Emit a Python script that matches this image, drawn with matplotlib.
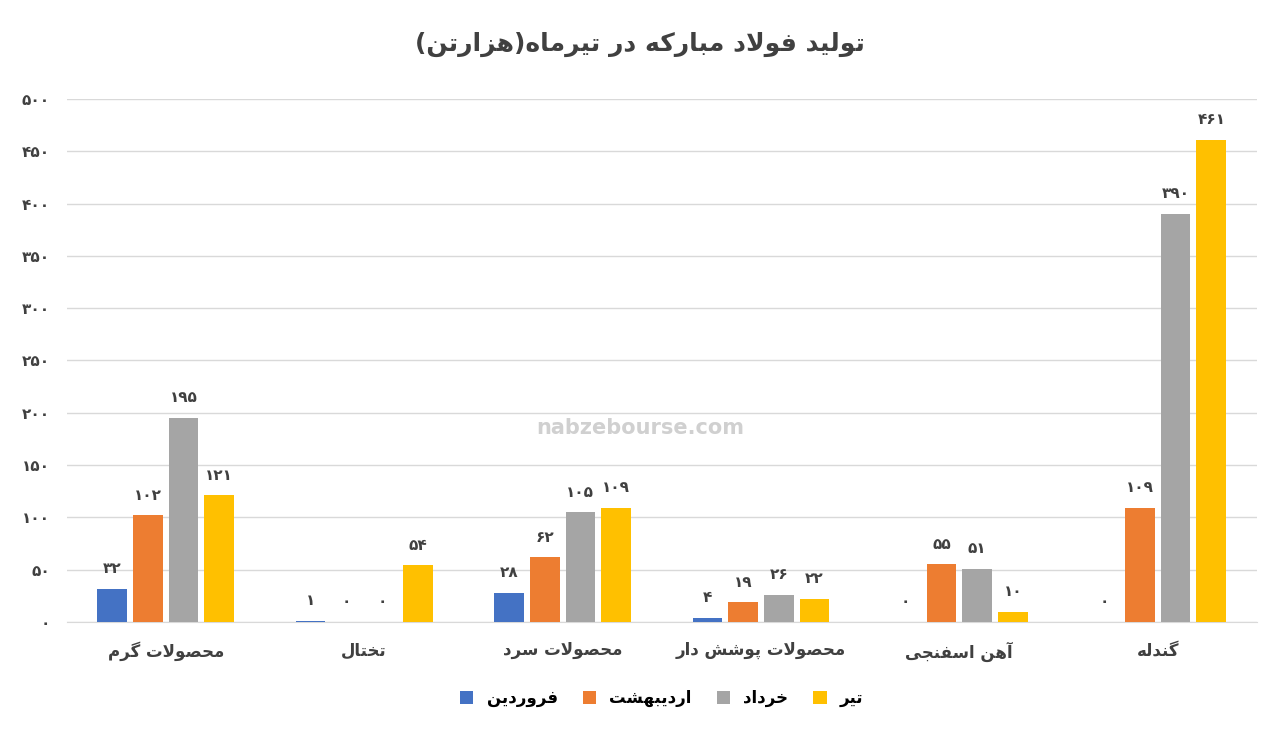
import numpy as np
import matplotlib.pyplot as plt

# simple Arabic/Persian shaping (no external libs available)
FORMS = {
    'ا': (0xFE8D, 0xFE8E), 'آ': (0xFE81, 0xFE82), 'د': (0xFEA9, 0xFEAA),
    'ذ': (0xFEAB, 0xFEAC), 'ر': (0xFEAD, 0xFEAE), 'ز': (0xFEAF, 0xFEB0),
    'ژ': (0xFB8A, 0xFB8B), 'و': (0xFEED, 0xFEEE),
    'ب': (0xFE8F, 0xFE90, 0xFE91, 0xFE92), 'پ': (0xFB56, 0xFB57, 0xFB58, 0xFB59),
    'ت': (0xFE95, 0xFE96, 0xFE97, 0xFE98), 'ث': (0xFE99, 0xFE9A, 0xFE9B, 0xFE9C),
    'ج': (0xFE9D, 0xFE9E, 0xFE9F, 0xFEA0), 'چ': (0xFB7A, 0xFB7B, 0xFB7C, 0xFB7D),
    'ح': (0xFEA1, 0xFEA2, 0xFEA3, 0xFEA4), 'خ': (0xFEA5, 0xFEA6, 0xFEA7, 0xFEA8),
    'س': (0xFEB1, 0xFEB2, 0xFEB3, 0xFEB4), 'ش': (0xFEB5, 0xFEB6, 0xFEB7, 0xFEB8),
    'ص': (0xFEB9, 0xFEBA, 0xFEBB, 0xFEBC), 'ض': (0xFEBD, 0xFEBE, 0xFEBF, 0xFEC0),
    'ط': (0xFEC1, 0xFEC2, 0xFEC3, 0xFEC4), 'ظ': (0xFEC5, 0xFEC6, 0xFEC7, 0xFEC8),
    'ع': (0xFEC9, 0xFECA, 0xFECB, 0xFECC), 'غ': (0xFECD, 0xFECE, 0xFECF, 0xFED0),
    'ف': (0xFED1, 0xFED2, 0xFED3, 0xFED4), 'ق': (0xFED5, 0xFED6, 0xFED7, 0xFED8),
    'ک': (0xFB8E, 0xFB8F, 0xFB90, 0xFB91), 'گ': (0xFB92, 0xFB93, 0xFB94, 0xFB95),
    'ل': (0xFEDD, 0xFEDE, 0xFEDF, 0xFEE0), 'م': (0xFEE1, 0xFEE2, 0xFEE3, 0xFEE4),
    'ن': (0xFEE5, 0xFEE6, 0xFEE7, 0xFEE8), 'ه': (0xFEE9, 0xFEEA, 0xFEEB, 0xFEEC),
    'ی': (0xFBFC, 0xFBFD, 0xFBFE, 0xFBFF),
}


def joins_next(c):
    return c in FORMS and len(FORMS[c]) == 4


def fa(text):
    chars = list(text)
    out = []
    i = 0
    while i < len(chars):
        c = chars[i]
        prev = chars[i - 1] if i > 0 else ''
        nxt = chars[i + 1] if i + 1 < len(chars) else ''
        if c not in FORMS:
            out.append({'(': ')', ')': '('}.get(c, c))
            i += 1
            continue
        pj = joins_next(prev)
        if c == 'ل' and nxt in ('ا', 'آ'):
            if nxt == 'ا':
                out.append(chr(0xFEFC if pj else 0xFEFB))
            else:
                out.append(chr(0xFEF6 if pj else 0xFEF5))
            i += 2
            continue
        f = FORMS[c]
        nj = nxt in FORMS and len(f) == 4
        if pj and nj:
            out.append(chr(f[3]))
        elif pj:
            out.append(chr(f[1]))
        elif nj:
            out.append(chr(f[2]))
        else:
            out.append(chr(f[0]))
        i += 1
    return ''.join(out[::-1])


def fa_num(n):
    return str(n).translate(str.maketrans('0123456789', '۰۱۲۳۴۵۶۷۸۹'))


plt.rcParams['font.family'] = ['DejaVu Sans']

categories = ['محصولات گرم', 'تختال', 'محصولات سرد', 'محصولات پوشش دار', 'آهن اسفنجی', 'گندله']
months = ['فروردین', 'اردیبهشت', 'خرداد', 'تیر']
farvardin = [32, 1, 28, 4, 0, 0]
ordibehesht = [102, 0, 62, 19, 55, 109]
khordad = [195, 0, 105, 26, 51, 390]
tir = [121, 54, 109, 22, 10, 461]
series = [farvardin, ordibehesht, khordad, tir]
colors = ['#4472C4', '#ED7D31', '#A5A5A5', '#FFC000']

fig = plt.figure(figsize=(12.8, 7.44), dpi=100)
ax = fig.add_axes([0.052, 0.164, 0.93, 0.703])

x = np.arange(len(categories))
step = 0.18
width = 0.15
for k, (vals, col, name) in enumerate(zip(series, colors, months)):
    pos = x + (k - 1.5) * step
    ax.bar(pos, vals, width, color=col, label=fa(name), zorder=3)
    for p, v in zip(pos, vals):
        ax.text(p, v + 12, fa_num(v), ha='center', va='bottom', fontsize=11,
                fontweight='bold', color='#404040')

ax.set_ylim(0, 500)
ax.set_xlim(-0.5, len(categories) - 0.5)
ax.set_yticks(range(0, 501, 50))
ax.set_yticklabels([fa_num(v) for v in range(0, 501, 50)], fontsize=11,
                   fontweight='bold', color='#404040')
ax.set_xticks(x)
ax.set_xticklabels([fa(c) for c in categories], fontsize=12, fontweight='bold', color='#404040')
ax.tick_params(length=0, pad=14)
ax.tick_params(axis='y', pad=12)
ax.grid(axis='y', color='#D9D9D9', linewidth=1, zorder=0)
for s in ['top', 'right', 'left']:
    ax.spines[s].set_visible(False)
ax.spines['bottom'].set_color('#D9D9D9')

fig.text(0.5, 0.94, fa('تولید فولاد مبارکه در تیرماه(هزارتن)'), ha='center', va='center',
         fontsize=18, fontweight='bold', color='#404040')
fig.text(0.5, 0.425, 'nabzebourse.com', ha='center', va='center', fontsize=15,
         fontweight='bold', color='#D0D0D0', zorder=0)

ax.legend(loc='upper center', bbox_to_anchor=(0.5, -0.1), ncol=4, frameon=False,
          handlelength=0.8, handleheight=0.8, columnspacing=1.5,
          prop={'weight': 'bold', 'size': 12})

fig.savefig('out.png', dpi=100, facecolor='white')
